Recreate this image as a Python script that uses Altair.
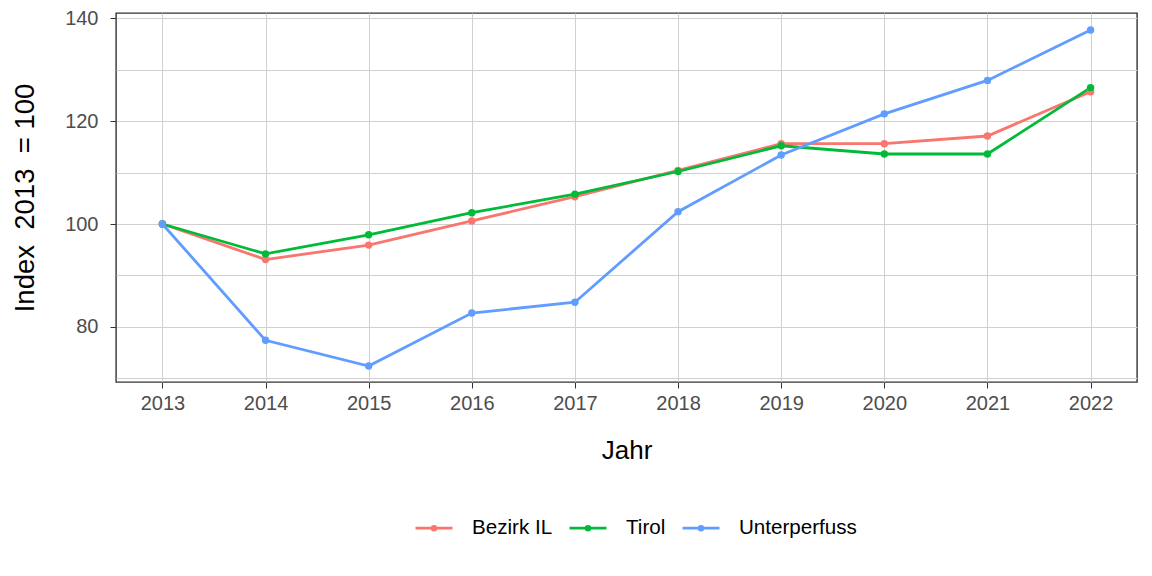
import altair as alt
import pandas as pd

years = [2013, 2014, 2015, 2016, 2017, 2018, 2019, 2020, 2021, 2022]
bezirk_il = [100, 93.1, 95.9, 100.6, 105.3, 110.4, 115.6, 115.6, 117.1, 125.7]
tirol = [100, 94.2, 97.9, 102.2, 105.8, 110.2, 115.2, 113.6, 113.6, 126.5]
unterperfuss = [100, 77.4, 72.4, 82.7, 84.8, 102.4, 113.4, 121.4, 127.9, 137.7]
series_names = ["Bezirk IL", "Tirol", "Unterperfuss"]
series_colors = ["#F8766D", "#00BA38", "#619CFF"]
y_ticks = [70, 80, 90, 100, 110, 120, 130, 140]

rows = []
for name, vals in zip(series_names, [bezirk_il, tirol, unterperfuss]):
    for yr, v in zip(years, vals):
        rows.append({"Jahr": yr, "Index": v, "Gebiet": name})
df = pd.DataFrame(rows)

FONT = "Liberation Sans"
NB = "\u00a0"
y_title = f"Index{NB}{NB}2013{NB}{NB}={NB}100"

legend_symbol = "M-1,0L1,0M-0.1,0a0.1,0.1 0 1,0 0.2,0a0.1,0.1 0 1,0 -0.2,0"

chart = alt.Chart(df).mark_line(
    strokeWidth=2.8,
    point=alt.OverlayMarkDef(filled=True, size=55, opacity=1),
).encode(
    x=alt.X(
        "Jahr:Q",
        scale=alt.Scale(domain=[2012.55, 2022.45], nice=False, zero=False),
        axis=alt.Axis(
            values=years, format="d", title="Jahr",
            grid=True, gridColor="#d0d0d0", gridWidth=1,
            domain=False, ticks=True, tickSize=6, tickColor="#333333", tickWidth=1,
            labelFont=FONT, labelFontSize=20, labelColor="#4d4d4d", labelPadding=5,
            titleFont=FONT, titleFontSize=26, titleFontWeight="normal", titleColor="#000000",
            titleX=510.5, titleY=76, titleBaseline="alphabetic", titleAlign="center",
        ),
    ),
    y=alt.Y(
        "Index:Q",
        scale=alt.Scale(domain=[69.3, 141], nice=False, zero=False),
        axis=alt.Axis(
            values=y_ticks, title=y_title,
            labelExpr="datum.value % 20 == 0 ? datum.label : ''",
            grid=True, gridColor="#d0d0d0", gridWidth=1,
            domain=False, ticks=True, tickSize=6, tickColor="#333333", tickWidth=1,
            tickOpacity=alt.condition("datum.value % 20 == 0", alt.value(1), alt.value(0)),
            labelFont=FONT, labelFontSize=20, labelColor="#4d4d4d", labelPadding=12,
            titleFont=FONT, titleFontSize=27.5, titleFontWeight="normal", titleColor="#000000",
            titleX=-91, titleY=184.5, titleAngle=-90, titleAlign="center", titleBaseline="middle",
        ),
    ),
    color=alt.Color(
        "Gebiet:N",
        scale=alt.Scale(domain=series_names, range=series_colors),
        legend=alt.Legend(
            title=None, orient="none", direction="horizontal",
            legendX=298, legendY=495, padding=0,
            symbolType=legend_symbol, symbolSize=1369, symbolStrokeWidth=2.8,
            labelFont=FONT, labelFontSize=20.6, labelColor="#000000",
            labelOffset=18, columnPadding=10,
        ),
    ),
).properties(
    width=1021, height=369,
    background="white",
    autosize=alt.AutoSizeParams(type="none"),
    padding={"left": 116, "top": 13, "right": 15, "bottom": 194},
).configure_view(
    stroke="#333333", strokeWidth=1.4,
)

chart.save("out.html", embed_options={"renderer": "svg", "actions": False})
